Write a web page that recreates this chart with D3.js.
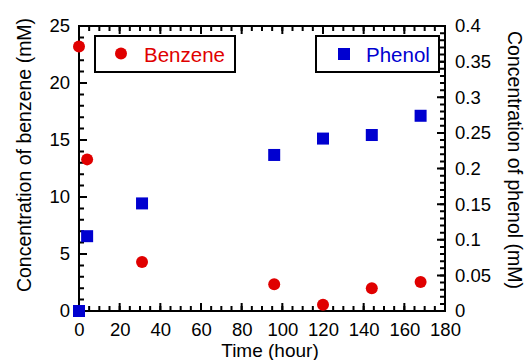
<!DOCTYPE html>
<html>
<head>
<meta charset="utf-8">
<script src="https://cdn.jsdelivr.net/npm/d3@7"></script>
<style>
  body { margin: 0; background: #fff; }
  svg text { font-family: "Liberation Sans", Arial, sans-serif; }
</style>
</head>
<body>
<div id="chart"></div>
<script>
const timeHours = [0, 4, 31, 96, 120, 144, 168];
const benzene = [23.2, 13.3, 4.3, 2.35, 0.55, 2.0, 2.55];
const phenol = [0, 0.105, 0.151, 0.219, 0.242, 0.247, 0.274];
const xTicks = [0, 20, 40, 60, 80, 100, 120, 140, 160, 180];
const leftTicks = [0, 5, 10, 15, 20, 25];
const rightTicks = [0, 0.05, 0.1, 0.15, 0.2, 0.25, 0.3, 0.35, 0.4];

const width = 529;
const height = 360;
const plot = { left: 79, right: 445, top: 26, bottom: 311 };
const red = '#e00000';
const blue = '#0000d0';

const svg = d3.select('#chart').append('svg')
  .attr('width', width)
  .attr('height', height);

const x = d3.scaleLinear().domain([0, 180]).range([plot.left, plot.right]);
const yL = d3.scaleLinear().domain([0, 25]).range([plot.bottom, plot.top]);
const yR = d3.scaleLinear().domain([0, 0.4]).range([plot.bottom, plot.top]);

const xMinor = d3.range(0, 181, 5);
const leftMinor = d3.range(0, 26, 1);
const rightMinor = d3.range(0, 41, 1).map(d => d / 100);

// tick labels through d3 axes (lines drawn separately)
function labels(axis, transform) {
  const g = svg.append('g').attr('transform', transform).call(axis);
  g.select('.domain').remove();
  g.selectAll('.tick line').remove();
  g.selectAll('text').attr('font-size', 18.5).attr('fill', '#000');
  return g;
}
labels(d3.axisBottom(x).tickValues(xTicks).tickSize(0).tickPadding(12).tickFormat(d3.format('d')),
  `translate(0,${plot.bottom})`);
labels(d3.axisLeft(yL).tickValues(leftTicks).tickSize(0).tickPadding(9).tickFormat(d3.format('d')),
  `translate(${plot.left},0)`);
labels(d3.axisRight(yR).tickValues(rightTicks).tickSize(0).tickPadding(10)
  .tickFormat(d => d === 0 ? '0' : String(+d.toFixed(2))),
  `translate(${plot.right},0)`);

// frame
svg.append('rect')
  .attr('x', plot.left).attr('y', plot.top)
  .attr('width', plot.right - plot.left).attr('height', plot.bottom - plot.top)
  .attr('fill', 'none').attr('stroke', '#000').attr('stroke-width', 2);

// inward tick marks on all four sides
function tickPath(values, scale, at, len, horizontal) {
  const p = d3.path();
  values.forEach(v => {
    const c = scale(v);
    if (horizontal) { p.moveTo(at, c); p.lineTo(at + len, c); }
    else { p.moveTo(c, at); p.lineTo(c, at + len); }
  });
  svg.append('path').attr('d', p.toString())
    .attr('fill', 'none').attr('stroke', '#000').attr('stroke-width', 2);
}
tickPath(xMinor, x, plot.bottom, -5, false);
tickPath(xTicks, x, plot.bottom, -8, false);
tickPath(xMinor, x, plot.top, 5, false);
tickPath(xTicks, x, plot.top, 8, false);
tickPath(leftMinor, yL, plot.left, 5, true);
tickPath(leftTicks, yL, plot.left, 8, true);
tickPath(rightMinor, yR, plot.right, -5, true);
tickPath(rightTicks, yR, plot.right, -8, true);

// axis titles
svg.append('text')
  .attr('transform', `translate(${24},${155}) rotate(-90)`)
  .attr('text-anchor', 'middle').attr('dy', '0.35em')
  .attr('font-size', 19.5)
  .text('Concentration of benzene (mM)');
svg.append('text')
  .attr('transform', `translate(${515},${160}) rotate(90)`)
  .attr('text-anchor', 'middle').attr('dy', '0.35em')
  .attr('font-size', 19.5)
  .text('Concentration of phenol (mM)');
svg.append('text')
  .attr('x', 270).attr('y', 357)
  .attr('text-anchor', 'middle')
  .attr('font-size', 19)
  .text('Time (hour)');

// phenol squares
svg.append('g').selectAll('rect')
  .data(timeHours.map((t, i) => [t, phenol[i]]))
  .enter().append('rect')
  .attr('x', d => x(d[0]) - 6)
  .attr('y', d => yR(d[1]) - 6)
  .attr('width', 12).attr('height', 12)
  .attr('fill', blue);

// benzene circles
svg.append('g').selectAll('circle')
  .data(timeHours.map((t, i) => [t, benzene[i]]))
  .enter().append('circle')
  .attr('cx', d => x(d[0]))
  .attr('cy', d => yL(d[1]))
  .attr('r', 6)
  .attr('fill', red);

// legends
function legendBox(x0, x1) {
  svg.append('rect')
    .attr('x', x0).attr('y', 36)
    .attr('width', x1 - x0).attr('height', 36)
    .attr('fill', '#fff').attr('stroke', '#000').attr('stroke-width', 2);
}
legendBox(95, 235);
svg.append('circle').attr('cx', 121).attr('cy', 53.5).attr('r', 6).attr('fill', red);
svg.append('text').attr('x', 144).attr('y', 61.5)
  .attr('font-size', 20.5).attr('fill', red).text('Benzene');

legendBox(316, 439);
svg.append('rect').attr('x', 338).attr('y', 48).attr('width', 12).attr('height', 12).attr('fill', blue);
svg.append('text').attr('x', 366).attr('y', 61.5)
  .attr('font-size', 20.5).attr('fill', blue).text('Phenol');
</script>
</body>
</html>
